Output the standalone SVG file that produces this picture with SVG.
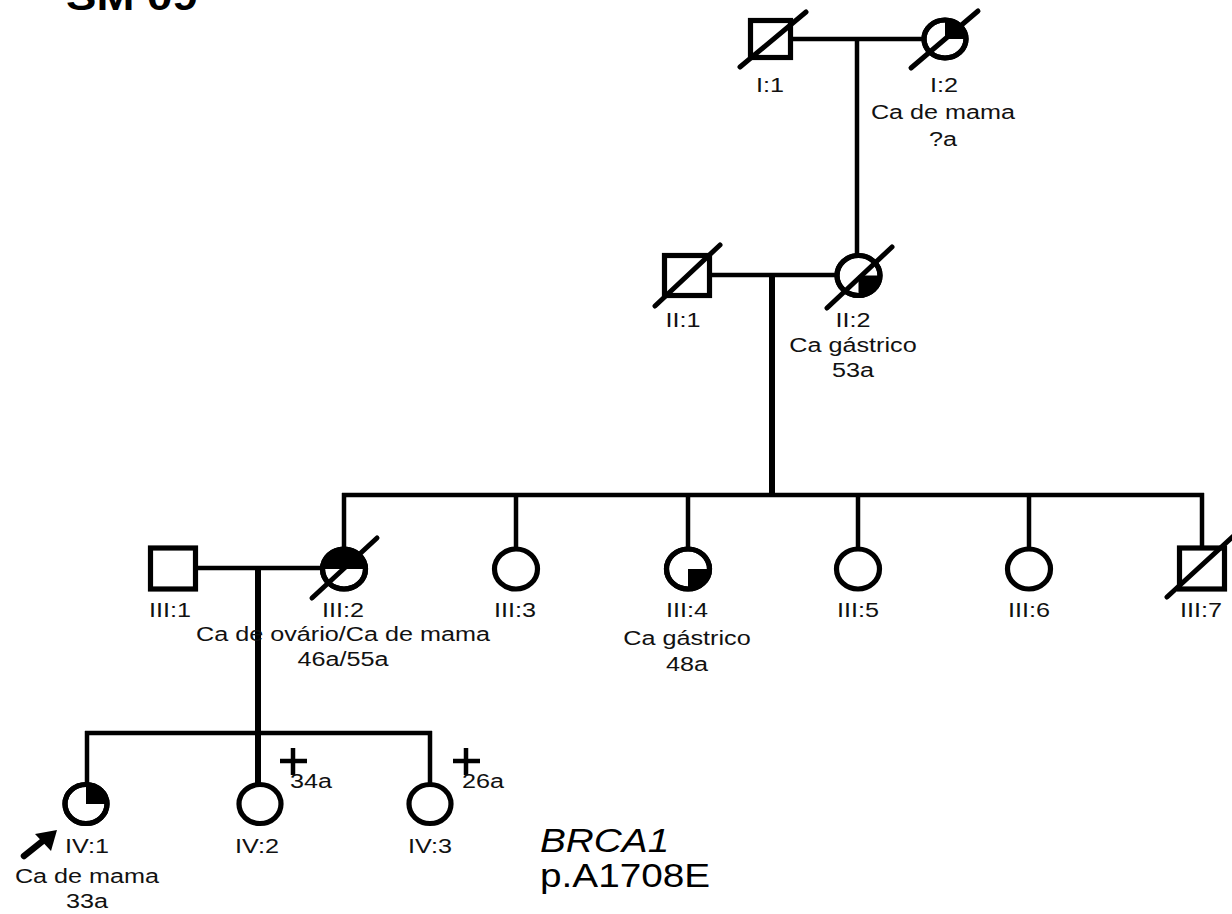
<svg xmlns="http://www.w3.org/2000/svg" width="1232" height="914" viewBox="0 0 1232 914">
<style>
  .bg{fill:#fff}
  .shape{fill:#fff;stroke:#000;stroke-width:5.2}
  .ring{fill:none;stroke:#000;stroke-width:5.2}
  .aff{fill:#000;stroke:none}
  .dead{stroke:#000;stroke-width:5;stroke-linecap:round}
  .ln{stroke:#000;stroke-width:4.5;fill:none}
  .thick{stroke:#000;stroke-width:6;fill:none}
  .cross{stroke:#000;stroke-width:4.5;fill:none}
  .lbl{font-family:"Liberation Sans",Arial,sans-serif;font-size:21px;fill:#111;text-anchor:middle}
  .lbls{font-family:"Liberation Sans",Arial,sans-serif;font-size:21px;fill:#111;text-anchor:start}
  .title{font-family:"Liberation Sans",Arial,sans-serif;font-size:38px;font-weight:bold;fill:#000}
  .gene{font-family:"Liberation Sans",Arial,sans-serif;font-size:34px;fill:#000}
</style>
<rect class="bg" x="0" y="0" width="1232" height="914"/>

<text class="title" transform="translate(66,10) scale(1.2,1)">SM 09</text>

<g id="connectors">
  <line class="ln" x1="793" y1="39" x2="924" y2="39"/>
  <line class="ln" x1="857" y1="39" x2="857" y2="256"/>
  <line class="ln" x1="712" y1="275" x2="837" y2="275"/>
  <line class="thick" x1="772" y1="275" x2="772" y2="495"/>
  <line class="ln" x1="342" y1="495" x2="1204" y2="495"/>
  <line class="ln" x1="344" y1="493" x2="344" y2="549"/>
  <line class="ln" x1="516" y1="495" x2="516" y2="549"/>
  <line class="ln" x1="688" y1="495" x2="688" y2="549"/>
  <line class="ln" x1="858" y1="495" x2="858" y2="549"/>
  <line class="ln" x1="1029" y1="495" x2="1029" y2="549"/>
  <line class="ln" x1="1202" y1="493" x2="1202" y2="549"/>
  <line class="ln" x1="196" y1="568" x2="323" y2="568"/>
  <line class="thick" x1="258" y1="568" x2="258" y2="785"/>
  <line class="ln" x1="85" y1="733" x2="432" y2="733"/>
  <line class="ln" x1="87" y1="731" x2="87" y2="785"/>
  <line class="ln" x1="430" y1="731" x2="430" y2="785"/>
</g>

<g id="I-1">
  <rect class="shape" x="750.5" y="20.5" width="40" height="37"/>
  <line class="dead" x1="740" y1="67" x2="806" y2="12"/>
  <text class="lbl" transform="translate(770,92) scale(1.2,1)">I:1</text>
</g>

<g id="I-2">
  <ellipse class="shape" cx="945" cy="39" rx="21" ry="19"/>
  <path class="aff" d="M945,39 L945,20 A21,19 0 0 1 966,39 Z"/>
  <ellipse class="ring" cx="945" cy="39" rx="21" ry="19"/>
  <line class="dead" x1="911" y1="68" x2="978" y2="11"/>
  <text class="lbl" transform="translate(944,92) scale(1.2,1)">I:2</text>
  <text class="lbl" transform="translate(943,119) scale(1.2,1)">Ca de mama</text>
  <text class="lbl" transform="translate(943,146) scale(1.2,1)">?a</text>
</g>

<g id="II-1">
  <rect class="shape" x="664.5" y="255.5" width="45" height="40"/>
  <line class="dead" x1="655" y1="306" x2="720" y2="245"/>
  <text class="lbl" transform="translate(683,327) scale(1.2,1)">II:1</text>
</g>

<g id="II-2">
  <ellipse class="shape" cx="858.5" cy="275.5" rx="21.5" ry="20"/>
  <path class="aff" d="M858.5,275.5 L880,275.5 A21.5,20 0 0 1 858.5,295.5 Z"/>
  <ellipse class="ring" cx="858.5" cy="275.5" rx="21.5" ry="20"/>
  <line class="dead" x1="827" y1="308" x2="892" y2="247"/>
  <text class="lbl" transform="translate(853,327) scale(1.2,1)">II:2</text>
  <text class="lbl" transform="translate(853,352) scale(1.2,1)">Ca gástrico</text>
  <text class="lbl" transform="translate(853,377) scale(1.2,1)">53a</text>
</g>

<g id="III-1">
  <rect class="shape" x="150.5" y="548" width="45" height="41"/>
  <text class="lbl" transform="translate(170,617) scale(1.2,1)">III:1</text>
</g>

<g id="III-2">
  <ellipse class="shape" cx="344" cy="569" rx="21.5" ry="20"/>
  <path class="aff" d="M322.5,569 A21.5,20 0 0 1 365.5,569 Z"/>
  <ellipse class="ring" cx="344" cy="569" rx="21.5" ry="20"/>
  <line class="dead" x1="312" y1="598" x2="377" y2="538"/>
  <text class="lbl" transform="translate(343,617) scale(1.2,1)">III:2</text>
  <text class="lbl" transform="translate(343,641) scale(1.2,1)">Ca de ovário/Ca de mama</text>
  <text class="lbl" transform="translate(343,666) scale(1.2,1)">46a/55a</text>
</g>

<g id="III-3">
  <ellipse class="shape" cx="516" cy="569" rx="21.5" ry="20"/>
  <text class="lbl" transform="translate(515,617) scale(1.2,1)">III:3</text>
</g>

<g id="III-4">
  <ellipse class="shape" cx="688" cy="569" rx="21.5" ry="20"/>
  <path class="aff" d="M688,569 L709.5,569 A21.5,20 0 0 1 688,589 Z"/>
  <ellipse class="ring" cx="688" cy="569" rx="21.5" ry="20"/>
  <text class="lbl" transform="translate(687,617) scale(1.2,1)">III:4</text>
  <text class="lbl" transform="translate(687,645) scale(1.2,1)">Ca gástrico</text>
  <text class="lbl" transform="translate(687,671) scale(1.2,1)">48a</text>
</g>

<g id="III-5">
  <ellipse class="shape" cx="858" cy="569" rx="21.5" ry="20"/>
  <text class="lbl" transform="translate(858,617) scale(1.2,1)">III:5</text>
</g>

<g id="III-6">
  <ellipse class="shape" cx="1029" cy="569" rx="21.5" ry="20"/>
  <text class="lbl" transform="translate(1029,617) scale(1.2,1)">III:6</text>
</g>

<g id="III-7">
  <rect class="shape" x="1179.5" y="548" width="45" height="41"/>
  <line class="dead" x1="1167" y1="597" x2="1240" y2="530"/>
  <text class="lbl" transform="translate(1201,617) scale(1.2,1)">III:7</text>
</g>

<g id="IV-1">
  <ellipse class="shape" cx="86" cy="804" rx="21" ry="19.5"/>
  <path class="aff" d="M86,804 L86,784.5 A21,19.5 0 0 1 107,804 Z"/>
  <ellipse class="ring" cx="86" cy="804" rx="21" ry="19.5"/>
  <line x1="24" y1="856" x2="44" y2="840" stroke="#000" stroke-width="6.5" stroke-linecap="round"/>
  <polygon points="57,830 35,834 51,851" fill="#000"/>
  <text class="lbl" transform="translate(87,853) scale(1.2,1)">IV:1</text>
  <text class="lbl" transform="translate(87,883) scale(1.2,1)">Ca de mama</text>
  <text class="lbl" transform="translate(87,908) scale(1.2,1)">33a</text>
</g>

<g id="IV-2">
  <ellipse class="shape" cx="260" cy="804" rx="21" ry="19.5"/>
  <path class="cross" d="M280,761 L307,761 M293,748 L293,775"/>
  <text class="lbls" transform="translate(290,788) scale(1.2,1)">34a</text>
  <text class="lbl" transform="translate(257,853) scale(1.2,1)">IV:2</text>
</g>

<g id="IV-3">
  <ellipse class="shape" cx="430" cy="804" rx="21" ry="19.5"/>
  <path class="cross" d="M453,761 L480,761 M466,748 L466,775"/>
  <text class="lbls" transform="translate(462,788) scale(1.2,1)">26a</text>
  <text class="lbl" transform="translate(430,853) scale(1.2,1)">IV:3</text>
</g>

<g id="gene">
  <text class="gene" font-style="italic" transform="translate(540,852) scale(1.14,1)">BRCA1</text>
  <text class="gene" transform="translate(540,887) scale(1.14,1)">p.A1708E</text>
</g>
</svg>
